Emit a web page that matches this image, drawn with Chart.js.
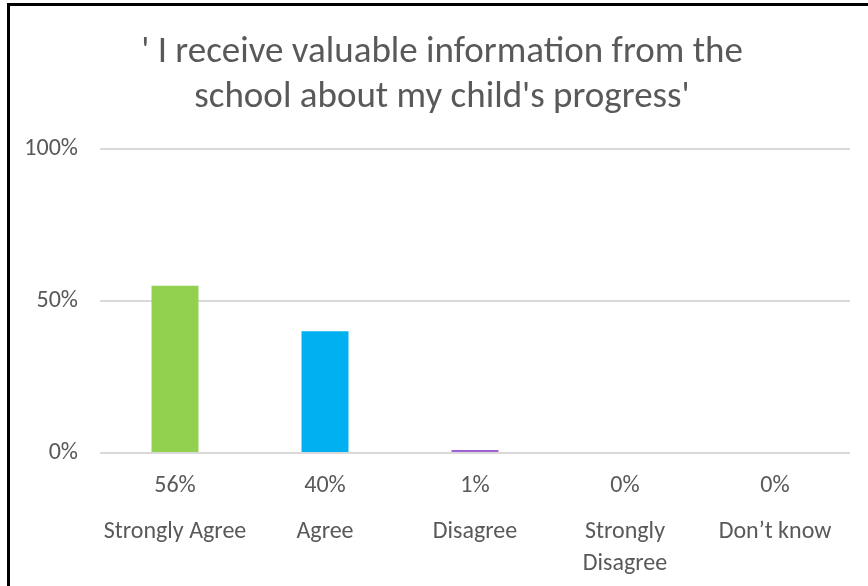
<!DOCTYPE html>
<html>
<head>
<meta charset="utf-8">
<script src="https://cdn.jsdelivr.net/npm/chart.js@4"></script>
<style>
  html, body { margin: 0; padding: 0; background: #fff; }
  #wrap { position: relative; width: 868px; height: 586px; overflow: hidden; }
  #frame { position: absolute; left: 7px; top: 3px; right: -10px; bottom: -10px;
           border-top: 3px solid #000; border-left: 3px solid #000; }
  canvas { position: absolute; left: 0; top: 0; }
</style>
</head>
<body>
<div id="wrap">
  <div id="frame"></div>
  <canvas id="chart" width="868" height="586"></canvas>
</div>
<script>
const titleLines = ["' I receive valuable information from the", "school about my child's progress'"];
const categories = ["Strongly Agree", "Agree", "Disagree", ["Strongly", "Disagree"], "Don\u2019t know"];
const values = [0.55, 0.40, 0.01, 0, 0];
const valueLabels = ["56%", "40%", "1%", "0%", "0%"];
const barColors = ["#92d050", "#00b0f0", "#a064d2", "#a064d2", "#a064d2"];
const yTicks = [0, 0.5, 1];

const FONT = "Carlito, Calibri, 'Open Sans', sans-serif";
const GREY = "#595959";

// draws the percentage row under the axis line
const valueRow = {
    id: "valueRow",
    afterLayout(chart) {
        // centre the title over the frame, not the canvas
        if (chart.titleBlock) chart.titleBlock.left = 34;
    },
    afterDraw(chart) {
        const ctx = chart.ctx;
        const x = chart.scales.x;
        const y0 = chart.scales.y.getPixelForValue(0);
        ctx.save();
        ctx.font = "24px " + FONT;
        ctx.fillStyle = GREY;
        ctx.textAlign = "center";
        ctx.textBaseline = "middle";
        valueLabels.forEach((t, i) => {
            ctx.fillText(t, x.getPixelForTick(i), y0 + 33);
        });
        ctx.restore();
    }
};

new Chart(document.getElementById("chart"), {
    type: "bar",
    data: {
        labels: categories,
        datasets: [{
            data: values,
            backgroundColor: barColors,
            barPercentage: 0.313,
            categoryPercentage: 1
        }]
    },
    options: {
        responsive: false,
        animation: false,
        layout: { padding: { top: 31, left: 0, right: 18, bottom: 0 } },
        plugins: {
            legend: { display: false },
            tooltip: { enabled: false },
            title: {
                display: true,
                text: titleLines,
                color: GREY,
                font: { family: FONT, size: 37, weight: "normal", lineHeight: 1.2 },
                padding: { top: 0, bottom: 29 }
            }
        },
        scales: {
            x: {
                grid: { display: false, tickLength: 63 },
                border: { display: false },
                ticks: {
                    color: GREY,
                    font: { family: FONT, size: 24, lineHeight: 1.33 },
                    padding: 0,
                    maxRotation: 0,
                    autoSkip: false
                },
                afterFit(scale) { scale.height = 133; }
            },
            y: {
                min: 0,
                max: 1,
                afterBuildTicks(scale) { scale.ticks = yTicks.map(v => ({ value: v })); },
                grid: { color: "#d9d9d9", lineWidth: 2, drawTicks: false },
                border: { display: false },
                ticks: {
                    color: GREY,
                    font: { family: FONT, size: 24 },
                    padding: 22,
                    callback: v => Math.round(v * 100) + "%"
                },
                afterFit(scale) { scale.width = 100; }
            }
        }
    },
    plugins: [valueRow]
});
</script>
</body>
</html>
